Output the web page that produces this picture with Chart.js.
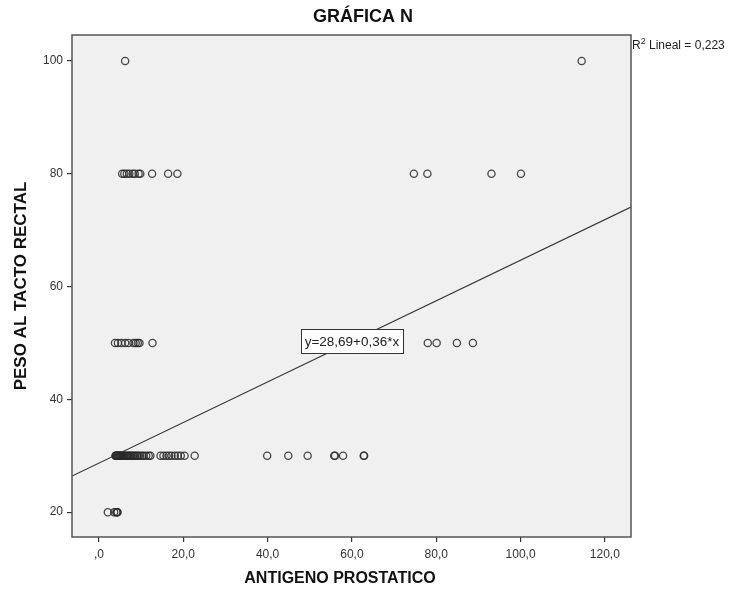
<!DOCTYPE html>
<html>
<head>
<meta charset="utf-8">
<script src="https://cdn.jsdelivr.net/npm/chart.js@4/dist/chart.umd.min.js"></script>
<style>
  html, body { margin: 0; padding: 0; background: #fff; }
  #wrap { width: 733px; height: 596px; }
</style>
</head>
<body>
<div id="wrap"><canvas id="chart" width="733" height="596"></canvas></div>
<script>
// antigeno prostatico (x) vs peso al tacto rectal (y)
const psa100 = [6.2, 114.5];
const psa80 = [5.5, 6.0, 6.6, 7.2, 8.0, 8.5, 9.4, 9.8, 12.6, 16.4, 18.6, 74.7, 77.9, 93.1, 100.1];
const psa50 = [3.8, 4.5, 5.3, 6.2, 7.0, 8.2, 8.7, 9.2, 9.6, 12.7, 78.0, 80.1, 84.9, 88.7];
const psa30 = [3.9, 4.0, 4.1, 4.3, 4.4, 4.5, 4.7, 4.9, 5.0, 5.1, 5.3, 5.5, 5.8, 6.0, 6.3, 6.6, 6.9,
               7.1, 7.4, 7.7, 8.0, 8.3, 8.6, 9.0, 9.3, 9.7, 10.2, 10.6, 11.2, 11.8, 12.2, 14.6,
               15.3, 16.0, 16.6, 17.2, 18.0, 18.7, 19.4, 20.3, 22.7, 39.9, 44.9, 49.5, 55.8, 56.0,
               57.9, 62.8, 62.9];
const psa20 = [2.1, 3.6, 4.1, 4.3, 4.4];
const pesoLevels = [100, 80, 50, 30, 20];

// fit line end points (y=28,69+0,36*x), read at the plot edges
const fitX = [-6.4, 126.2];
const fitY = [26.4, 74.1];

const xTicks = [0, 20, 40, 60, 80, 100, 120];
const yTicks = [20, 40, 60, 80, 100];
const xRange = [-6.4, 126.2];
const yRange = [15.6, 104.6];

const titleText = 'GRÁFICA N';
const xTitle = 'ANTIGENO PROSTATICO';
const yTitle = 'PESO AL TACTO RECTAL';
const fitLabel = 'y=28,69+0,36*x';
const fitLabelAt = { x: 60, y: 50.3 };
const r2Text = ' Lineal = 0,223';

// build scatter points
const groups = [psa100, psa80, psa50, psa30, psa20];
const points = [];
groups.forEach(function (g, i) {
  g.forEach(function (v) { points.push({ x: v, y: pesoLevels[i] }); });
});
const fitPoints = fitX.map(function (v, i) { return { x: v, y: fitY[i] }; });

function fmtX(v) {
  if (v === 0) return ',0';
  return v.toFixed(1).replace('.', ',');
}

const FONT = "'Liberation Sans', Arial, sans-serif";

const boxPlugin = {
  id: 'boxPlugin',
  beforeDraw(chart) {
    const a = chart.chartArea, ctx = chart.ctx;
    ctx.save();
    ctx.fillStyle = '#f0f0f0';
    ctx.fillRect(a.left, a.top, a.right - a.left, a.bottom - a.top);
    ctx.restore();
  },
  afterDraw(chart) {
    const a = chart.chartArea, ctx = chart.ctx;
    ctx.save();
    ctx.strokeStyle = '#555';
    ctx.lineWidth = 1.5;
    ctx.strokeRect(a.left, a.top, a.right - a.left, a.bottom - a.top);

    // titles
    ctx.fillStyle = '#111';
    ctx.textAlign = 'center';
    ctx.textBaseline = 'middle';
    ctx.font = 'bold 18px ' + FONT;
    ctx.fillText(titleText, 363, 17);
    ctx.font = 'bold 16px ' + FONT;
    ctx.fillText(xTitle, 340, 579);
    ctx.save();
    ctx.translate(21, (a.top + a.bottom) / 2);
    ctx.rotate(-Math.PI / 2);
    ctx.font = 'bold 17px ' + FONT;
    ctx.fillText(yTitle, 0, 0);
    ctx.restore();

    // equation box
    const xs = chart.scales.x, ys = chart.scales.y;
    const cx = xs.getPixelForValue(fitLabelAt.x);
    const cy = ys.getPixelForValue(fitLabelAt.y);
    ctx.font = '13.5px ' + FONT;
    const w = ctx.measureText(fitLabel).width + 7;
    const h = 24;
    ctx.fillStyle = '#fff';
    ctx.fillRect(cx - w / 2, cy - h / 2, w, h);
    ctx.strokeStyle = '#333';
    ctx.lineWidth = 1;
    ctx.strokeRect(Math.round(cx - w / 2) + 0.5, Math.round(cy - h / 2) + 0.5, Math.round(w), h);
    ctx.fillStyle = '#222';
    ctx.textAlign = 'center';
    ctx.textBaseline = 'middle';
    ctx.fillText(fitLabel, cx, cy + 1);

    // R2 label
    let tx = a.right + 1, ty = a.top + 11;
    ctx.textAlign = 'left';
    ctx.font = '12px ' + FONT;
    ctx.fillText('R', tx, ty);
    tx += ctx.measureText('R').width;
    ctx.font = '9px ' + FONT;
    ctx.fillText('2', tx, ty - 4);
    tx += ctx.measureText('2').width;
    ctx.font = '12px ' + FONT;
    ctx.fillText(r2Text, tx, ty);
    ctx.restore();
  }
};

new Chart(document.getElementById('chart'), {
  type: 'scatter',
  data: {
    datasets: [{
      data: points,
      pointStyle: 'circle',
      pointRadius: 3.6,
      pointBorderWidth: 1.3,
      pointBorderColor: 'rgba(40,40,40,0.85)',
      pointBackgroundColor: 'rgba(0,0,0,0)',
      pointHoverRadius: 3.6
    }, {
      type: 'line',
      data: fitPoints,
      borderColor: '#333',
      borderWidth: 1.2,
      pointRadius: 0,
      fill: false
    }]
  },
  options: {
    responsive: false,
    animation: false,
    layout: { padding: { left: 0, right: 102, top: 35, bottom: 0 } },
    plugins: {
      legend: { display: false },
      tooltip: { enabled: false },
      title: { display: false }
    },
    scales: {
      x: {
        type: 'linear',
        min: xRange[0], max: xRange[1],
        afterBuildTicks(s) { s.ticks = xTicks.map(function (v) { return { value: v }; }); },
        afterFit(s) { s.height = 59; },
        grid: { display: true, drawOnChartArea: false, drawTicks: true, tickLength: 5, color: '#333', lineWidth: 1.2 },
        border: { display: false },
        ticks: {
          color: '#333', padding: 5,
          font: { family: FONT, size: 12 },
          callback: function (v) { return fmtX(v); },
          maxRotation: 0
        },
        title: { display: false }
      },
      y: {
        type: 'linear',
        min: yRange[0], max: yRange[1],
        afterBuildTicks(s) { s.ticks = yTicks.map(function (v) { return { value: v }; }); },
        afterFit(s) { s.width = 72; },
        grid: { display: true, drawOnChartArea: false, drawTicks: true, tickLength: 5, color: '#333', lineWidth: 1.2 },
        border: { display: false },
        ticks: {
          color: '#333', padding: 4,
          font: { family: FONT, size: 12 },
          callback: function (v) { return String(v); }
        },
        title: { display: false }
      }
    }
  },
  plugins: [boxPlugin]
});
</script>
</body>
</html>
